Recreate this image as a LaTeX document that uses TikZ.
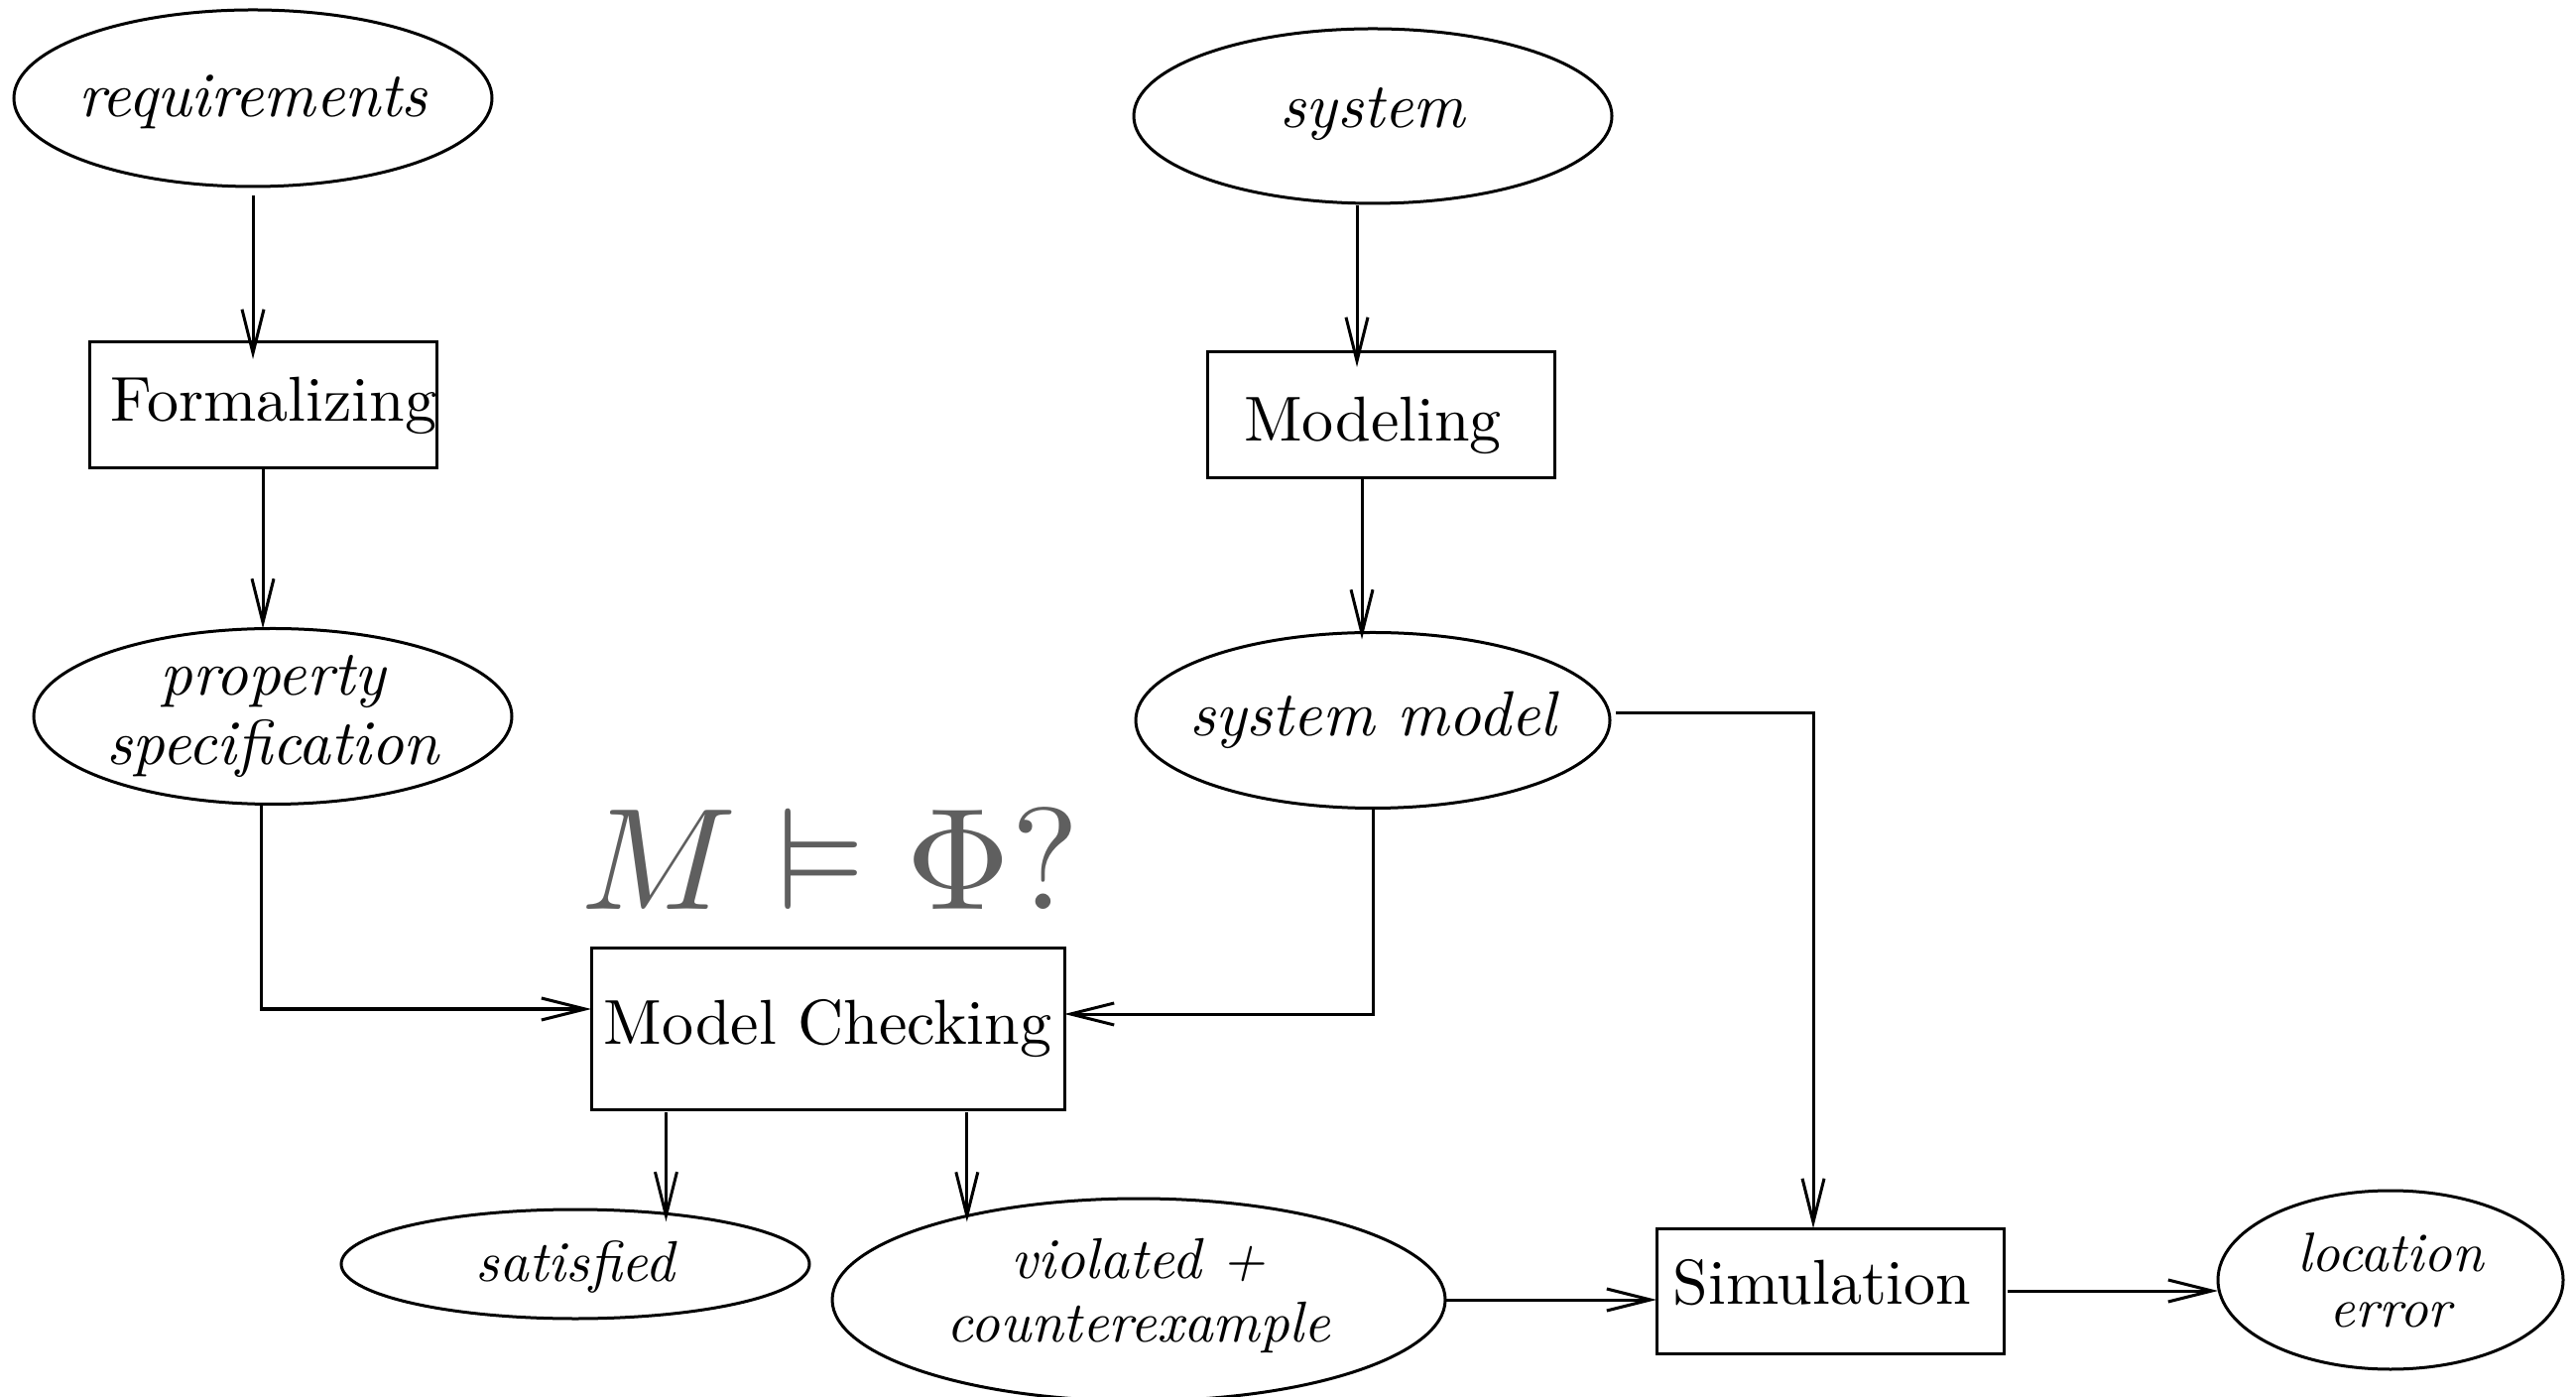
\documentclass[tikz,border=0pt]{standalone}
\usepackage{amssymb}
\usepackage{fontspec}
\setmainfont{lmroman10-regular.otf}[ItalicFont=lmroman10-italic.otf, BoldFont=lmroman10-bold.otf]
\usetikzlibrary{shapes.geometric,arrows.meta}
\definecolor{fgray}{RGB}{95,95,95}
\begin{document}
\begin{tikzpicture}[x=0.25pt,y=-0.25pt,
  line width=0.75pt,
  arr/.style={-{Straight Barb[length=11pt,width=5.5pt]}},
  ell/.style={draw, ellipse, inner sep=0pt, outer sep=0pt},
  boxn/.style={draw, rectangle, inner sep=0pt, outer sep=0pt, font=\fontsize{16}{19}\selectfont},
  boxt/.style={font=\fontsize{16}{19}\selectfont, inner sep=0pt},
  lab/.style={font=\itshape\fontsize{16}{17.5}\selectfont, align=center, inner sep=0pt},
  labs/.style={font=\itshape\fontsize{14.5}{16}\selectfont, align=center, inner sep=0pt},
  labl/.style={font=\itshape\fontsize{14}{14}\selectfont, align=center, inner sep=0pt},
]
\useasboundingbox (0,0) rectangle (2597,1408);

\node[ell, minimum width=120.5pt, minimum height=44.5pt, label={[lab, yshift=-1pt]center:requirements}] (req) at (255,99) {};
\node[boxn, minimum width=87.5pt, minimum height=31.75pt, label={[boxt, xshift=2.75pt]center:Formalizing}] (formal) at (265,408.5) {};
\node[ell, minimum width=120.5pt, minimum height=44.25pt, label={[lab]center:property\\specification}] (ps) at (275,722) {};

\node[ell, minimum width=120.5pt, minimum height=44pt, label={[lab, yshift=0.5pt]center:system}] (sys) at (1384,117) {};
\node[boxn, minimum width=87.5pt, minimum height=31.75pt, label={[boxt, xshift=-2pt, yshift=-2.5pt]center:Modeling}] (model) at (1392,418.5) {};
\node[ell, minimum width=119.5pt, minimum height=44.25pt, label={[lab]center:system model}] (sm) at (1384,726) {};

\node[anchor=base, text=fgray, inner sep=0pt] (phi) at (837,917) {\scalebox{3.65}{$M \vDash \Phi?$}};
\node[boxn, minimum width=119.25pt, minimum height=40.5pt] (mc) at (834.5,1037) {Model Checking};

\node[ell, minimum width=118pt, minimum height=27.5pt, label={[labs, yshift=-0.75pt]center:satisfied}] (sat) at (580,1274) {};
\node[ell, minimum width=154.5pt, minimum height=51pt, label={[labs, yshift=1pt]center:violated +\\counterexample}] (viol) at (1148,1310) {};
\node[boxn, minimum width=87.5pt, minimum height=31.5pt, label={[boxt, xshift=-2pt, yshift=2pt]center:Simulation}] (sim) at (1845,1301) {};
\node[ell, minimum width=87pt, minimum height=45pt, label={[labl]center:location\\error}] (loc) at (2410,1290) {};

\draw[arr, shorten <=2.25pt, shorten >=-4.25pt] (req.south) -- (req.south |- formal.north);
\draw[arr] (formal.south) -- (formal.south |- ps.north);
\draw[arr] ([xshift=-3pt]ps.south) |- ([yshift=5pt]mc.west);
\draw[arr, shorten <=0.5pt, shorten >=-3.75pt] ([xshift=-4pt]sys.south) -- ([xshift=-4pt]sys.south |- model.north);
\draw[arr, shorten >=-1.75pt] ([xshift=-4.75pt]model.south) -- ([xshift=-4.75pt]model.south |- sm.north);
\draw[arr] (sm.south) |- ([yshift=3.75pt]mc.east);
\draw[arr, shorten <=1.5pt] ([yshift=1.75pt]sm.east) -| ([xshift=-4.25pt]sim.north);
\draw[arr, shorten <=0.75pt, shorten >=-2pt] (sat.29 |- mc.south) -- (sat.29);
\draw[arr, shorten <=0.75pt, shorten >=-1.5pt] (viol.154 |- mc.south) -- (viol.154);
\draw[arr] (viol.east) -- (viol.east -| sim.west);
\draw[arr, shorten <=1pt] (sim.east) -- (sim.east -| loc.west);
\end{tikzpicture}
\end{document}
